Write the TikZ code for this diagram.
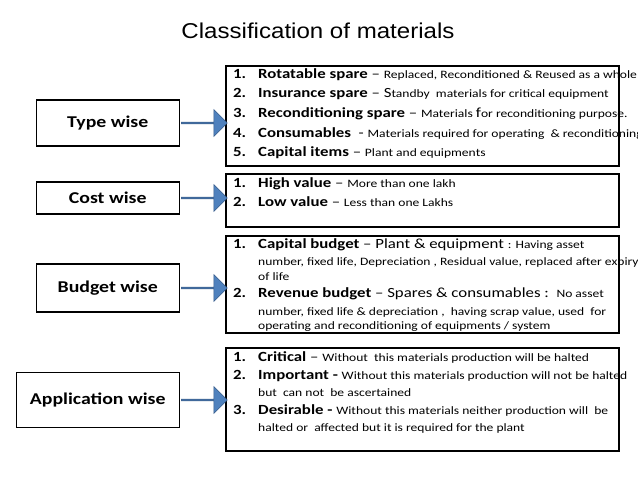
\documentclass[tikz,border=0pt]{standalone}
\usepackage{fontspec}
\setmainfont{Carlito}[FakeStretch=1.2]
\newfontfamily\titlefont{Liberation Sans}[FakeStretch=1.12]
\usetikzlibrary{shapes.arrows}
\definecolor{arrblue}{HTML}{4F81BD}
\definecolor{arrdark}{HTML}{385D8A}
\tikzset{
  lbox/.style={draw,line width=1.5pt,minimum width=143pt,anchor=east,font=\fontsize{16.5}{18}\selectfont\bfseries},
  rbox/.style={draw,line width=1.5pt,minimum width=393pt,anchor=north west},
  txt/.style={anchor=north west,align=left,inner sep=0pt,font=\fontsize{14}{19.7}\selectfont},
  barrow/.style={single arrow,fill=arrblue,draw=arrdark,line width=0.6pt,minimum height=46pt,single arrow head extend=5pt,minimum width=27pt,inner sep=0pt,anchor=west,single arrow tip angle=90},
}
\newcommand{\itm}[1]{\makebox[25pt][l]{\bfseries #1}}
\newcommand{\sm}{\fontsize{11.3}{12}\selectfont}
\newcommand{\ind}{\hspace*{25pt}}
\begin{document}
\begin{tikzpicture}[x=1pt,y=-1pt]
\useasboundingbox (0,0) rectangle (638,479);
\node[font=\titlefont\fontsize{21.5}{24}\selectfont] (title) at (318,31) {Classification of materials};
% boxes
\node[rbox,minimum height=100pt] (r1) at (225,65) {};
\node[rbox,minimum height=53pt] (r2) at (225,173) {};
\node[rbox,minimum height=97pt] (r3) at (225,235) {};
\node[rbox,minimum height=103pt] (r4) at (225,347) {};
\node[lbox,minimum height=46pt] (l1) at (180,123) {Type wise};
\node[lbox,minimum height=32pt] (l2) at (180,198) {Cost wise};
\node[lbox,minimum height=48pt] (l3) at (180,288) {Budget wise};
\node[lbox,minimum height=55pt,minimum width=163pt] (l4) at (180,400) {Application wise};
\foreach \i in {1,2,3,4}{\node[barrow] (a\i) at ([xshift=1pt]l\i.east) {};}
% texts
\node[txt] (t1) at (233,68) {\itm{1.}\textbf{Rotatable spare} -- {\sm Replaced, Reconditioned \& Reused as a whole}\\
\itm{2.}\textbf{Insurance spare} -- S{\sm tandby\ \ materials for critical equipment}\\
\itm{3.}\textbf{Reconditioning spare} -- {\sm Materials }f{\sm or reconditioning purpose.}\\
\itm{4.}\textbf{Consumables}\ \ - {\sm Materials required for operating\ \ \& reconditioning}\\
\itm{5.}\textbf{Capital items} -- {\sm Plant and equipments}};
\node[txt] (t2) at (233,177) {\itm{1.}\textbf{High value} -- {\sm More than one lakh}\\
\itm{2.}\textbf{Low value} -- {\sm Less than one Lakhs}};
\node[txt,font=\fontsize{14}{17.5}\selectfont] (t3) at (233,238) {\itm{1.}\textbf{Capital budget} -- Plant \& equipment {\sm: Having asset}\\
\ind{\sm number, fixed life, Depreciation , Residual value, replaced after expiry}\\[-3pt]
\ind{\sm of life}\\
\itm{2.}\textbf{Revenue budget} -- Spares \& consumables :\ \ {\sm No asset}\\
\ind{\sm number, fixed life \& depreciation ,\ \ having scrap value, used\ \ for}\\[-3pt]
\ind{\sm operating and reconditioning of equipments / system}};
\node[txt,font=\fontsize{14}{18.5}\selectfont] (t4) at (233,351) {\itm{1.}\textbf{Critical} -- {\sm Without\ \ this materials production\ will be halted}\\
\itm{2.}\textbf{Important -} {\sm Without this materials production will not be halted}\\[-2pt]
\ind{\sm but\ \ can not\ \ be ascertained}\\
\itm{3.}\textbf{Desirable -} {\sm Without this materials neither production will\ \ be}\\[-2pt]
\ind{\sm halted or\ \ affected but it is required for the plant}};
\end{tikzpicture}
\end{document}
